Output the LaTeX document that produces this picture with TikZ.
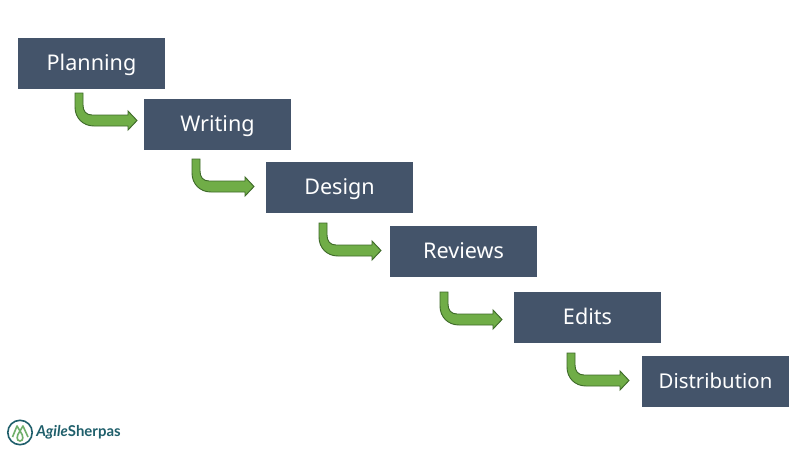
\documentclass[tikz,border=0pt]{standalone}
\usepackage{fontspec}
\setmainfont{Noto Sans}
\newfontfamily\logofont{Lato}
\definecolor{boxblue}{HTML}{44546A}
\definecolor{arrowgreen}{HTML}{70AD47}
\definecolor{arrowedge}{HTML}{3F6B2A}
\definecolor{logoteal}{HTML}{1F5F6B}
\definecolor{logogreen}{HTML}{6FAF6A}
\tikzset{
  stagebox/.style={fill=boxblue,draw=none,minimum width=110.25pt,minimum height=38.25pt,inner sep=0pt,text height=13.4pt,text depth=3pt,text=white,font=\fontsize{16.2pt}{20pt}\selectfont},
  bentarrow/.pic={
    \path[fill=arrowgreen,draw=arrowedge,line width=0.7pt,line join=miter]
      (0,0) -- (8,0) -- (8,12) .. controls (8,18) and (11,22) .. (17,22)
      -- (53,22) -- (53,18) -- (62,27.5) -- (53,37) -- (53,33) -- (19,33)
      .. controls (8,33) and (0,25) .. (0,14) -- cycle;
  }
}
\begin{document}
\begin{tikzpicture}[x=0.75pt,y=-0.75pt]
\useasboundingbox (0,0) rectangle (801,450);
\fill[white] (0,0) rectangle (801,450);
\node[stagebox] (planning) at (91.5,63.5) {Planning};
\node[stagebox] (writing) at (217.5,124.5) {Writing};
\node[stagebox] (design) at (339.5,187.5) {Design};
\node[stagebox] (reviews) at (463.5,251.5) {Reviews};
\node[stagebox] (edits) at (587.5,317.5) {Edits};
\node[stagebox,font=\fontsize{15.3pt}{20pt}\selectfont] (distribution) at (715.5,381.5) {Distribution};
\pic at (75,93) {bentarrow};
\pic at (192,159) {bentarrow};
\pic at (319,223) {bentarrow};
\pic at (440,292) {bentarrow};
\pic at (567,353) {bentarrow};
% logo
\draw[logoteal,line width=1.2pt] (20,432.5) circle[radius=12.2];
\draw[logogreen,line width=1.2pt,line join=round] (12.5,437) -- (17,426) -- (20,431) -- (23,426) -- (28,437);
\draw[logogreen,line width=1.2pt] (20,431) .. controls (16,436) and (16.5,441) .. (20,441) .. controls (23.5,441) and (24,436) .. (20,431);
\node[anchor=west,inner sep=0pt,text=logoteal,font=\logofont\fontsize{11.2pt}{13pt}\selectfont] (logotext) at (36,432.5) {\textit{\textbf{Agile}}\textbf{Sherpas}};
\end{tikzpicture}
\end{document}
